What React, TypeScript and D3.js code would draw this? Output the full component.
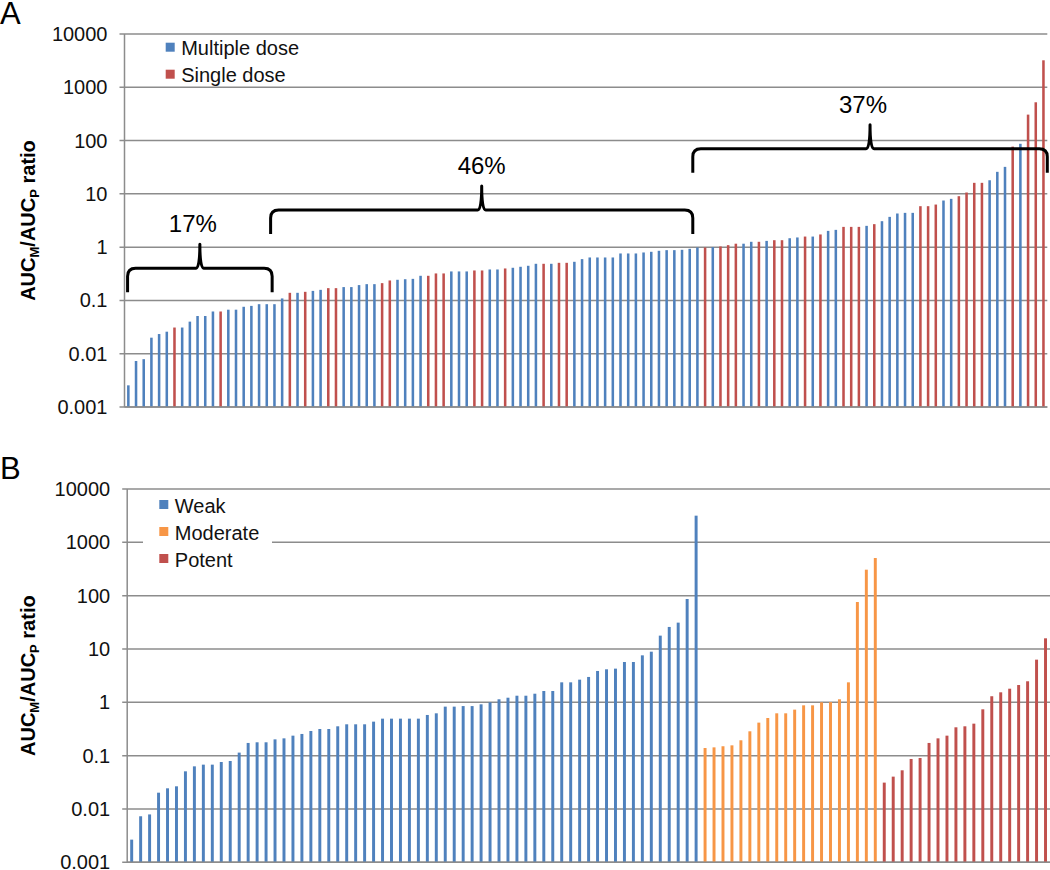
import React from 'react'
import * as d3 from 'd3'

const FONT = "'Liberation Sans', Arial, Helvetica, sans-serif"

// y axis decades (log scale)
const TICKS = [10000, 1000, 100, 10, 1, 0.1, 0.01, 0.001]
const TICK_LABELS = ['10000', '1000', '100', '10', '1', '0.1', '0.01', '0.001']

// colours (Excel 2007 palette)
const BLUE = '#4F81BD'
const RED = '#C0504D'
const ORANGE = '#F79646'
const GRID = '#8c8c8c'

// Panel A : AUCm/AUCp ratio, sorted, coloured by dosing regimen
const ratioA = [
    0.00255, 0.0073, 0.0079, 0.020, 0.0234, 0.0259, 0.031, 0.031, 0.040, 0.051,
    0.051, 0.062, 0.062, 0.067, 0.067, 0.076, 0.079, 0.085, 0.085, 0.085,
    0.109, 0.139, 0.139, 0.145, 0.151, 0.158, 0.170, 0.170, 0.178, 0.178,
    0.194, 0.202, 0.202, 0.211, 0.237, 0.244, 0.25, 0.254, 0.29, 0.29,
    0.321, 0.321, 0.35, 0.35, 0.35, 0.365, 0.365, 0.381, 0.381, 0.398,
    0.41, 0.428, 0.447, 0.487, 0.487, 0.487, 0.508, 0.508, 0.531, 0.596,
    0.64, 0.64, 0.64, 0.64, 0.761, 0.761, 0.761, 0.794, 0.818, 0.854,
    0.878, 0.878, 0.891, 0.93, 0.985, 0.985, 1.0, 1.03, 1.09, 1.16,
    1.16, 1.26, 1.26, 1.31, 1.35, 1.35, 1.47, 1.52, 1.58, 1.58,
    1.73, 2.02, 2.11, 2.4, 2.4, 2.4, 2.51, 2.7, 3.07, 3.7,
    4.28, 4.4, 4.4, 5.87, 5.87, 6.3, 7.5, 8.06, 9.04, 10.6,
    16.1, 16.1, 18.0, 25.9, 32.1, 77, 87, 307, 523, 3210,
]
// M = multiple dose, S = single dose (one letter per bar)
const doseA = [
    'MMMMMMSMMM', 'MMSMMMMMMM', 'MSMSMMSSMM', 'MMMSSMMMMS', 'SSMMMSSMMS',
    'MMMMSMSSMM', 'MMMMMMMMMM', 'MMMMMSMSSS', 'MMSMSSMMSM', 'SMMSSSMSMM',
    'MMMSSSMMSS', 'SSMMMSMSSS',
].join('').split('')

// Panel B : same ratio, grouped by inhibitor potency
const weak = [
    0.00266, 0.0073, 0.0079, 0.0202, 0.0244, 0.0266, 0.0508, 0.063, 0.0678, 0.0678,
    0.076, 0.0794, 0.114, 0.173, 0.178, 0.178, 0.202, 0.211, 0.237, 0.255,
    0.29, 0.316, 0.316, 0.355, 0.387, 0.387, 0.387, 0.434, 0.494, 0.494,
    0.494, 0.494, 0.494, 0.579, 0.622, 0.83, 0.83, 0.85, 0.85, 0.917,
    1.0, 1.14, 1.22, 1.33, 1.33, 1.45, 1.63, 1.63, 2.37, 2.37,
    2.66, 2.99, 3.87, 4.16, 4.28, 5.7, 5.7, 7.6, 8.9, 17.8,
    25.9, 31.2, 86.6, 3162,
]
const moderate = [
    0.139, 0.143, 0.15, 0.156, 0.194, 0.286, 0.416, 0.508, 0.622, 0.622,
    0.729, 0.878, 0.878, 1.0, 1.01, 1.14, 2.37, 76, 307, 508,
]
const potent = [
    0.0312, 0.0404, 0.0531, 0.0866, 0.0904, 0.173, 0.211, 0.237, 0.34, 0.355,
    0.398, 0.739, 1.3, 1.54, 1.8, 2.11, 2.48, 6.31, 15.85,
]

const legendA = ['Multiple dose', 'Single dose']
const legendB = ['Weak', 'Moderate', 'Potent']

// brackets over panel A: bar positions (fractional index), level value, label
const bracketsA = [
    { from: -0.1, to: 18.7, level: 0.4, label: '17%', dx: -7 },
    { from: 18.5, to: 73.4, level: 5, label: '46%', dx: 0 },
    { from: 73.4, to: 119.5, level: 70, label: '37%', dx: -7 },
]

type Bracket = { from: number, to: number, level: number, label: string, dx: number }

type PanelProps = {
    letter: string
    values: number[]
    colors: string[]
    x0: number, x1: number, y0: number, y1: number
    legend: string[]
    legendColors: string[]
    legendX: number
    legendY: number
    legendBox?: { x: number, y: number, w: number, h: number }
    brackets?: Bracket[]
}

const bracePath = (xa: number, xb: number, yh: number) => {
    const arm = 24, peak = 24, r = 8, s = 4
    const xm = (xa + xb) / 2
    return `M${xa},${yh + arm} L${xa},${yh + r} Q${xa},${yh} ${xa + r},${yh}` +
        ` L${xm - s},${yh} Q${xm},${yh} ${xm},${yh - peak} Q${xm},${yh} ${xm + s},${yh}` +
        ` L${xb - r},${yh} Q${xb},${yh} ${xb},${yh + r} L${xb},${yh + arm}`
}

const Panel = (p: PanelProps) => {
    const y = d3.scaleLog().domain([0.001, 10000]).range([p.y1, p.y0])
    const x = d3.scaleBand<number>()
        .domain(d3.range(p.values.length))
        .range([p.x0, p.x1])
        .paddingInner(0.67)
        .paddingOuter(0.335)
    const bx = (i: number) => p.x0 + x.step() * (i + 0.5)
    const midY = (p.y0 + p.y1) / 2

    return (
        <g fontFamily={FONT}>
            <text x={0} y={p.y0 - 10} fontSize={31}>{p.letter}</text>

            {/* grid + ticks */}
            {TICKS.map((t, i) => (
                <g key={t}>
                    <line x1={p.x0 - 5} x2={p.x1} y1={y(t)} y2={y(t)} stroke={GRID} strokeWidth={1.5} />
                    <text x={p.x0 - 17} y={y(t)} dy="0.35em" textAnchor="end" fontSize={20} fill="#111">{TICK_LABELS[i]}</text>
                </g>
            ))}
            <line x1={p.x0} x2={p.x0} y1={p.y0} y2={p.y1} stroke={GRID} strokeWidth={1.5} />

            <text transform={`translate(35,${midY}) rotate(-90)`} textAnchor="middle" fontSize={20} fontWeight="bold">
                AUC<tspan fontSize={13} dy={4}>M</tspan><tspan dy={-4}>/AUC</tspan><tspan fontSize={13} dy={4}>P</tspan><tspan dy={-4}> ratio</tspan>
            </text>

            {p.legendBox && (
                <rect x={p.legendBox.x} y={p.legendBox.y} width={p.legendBox.w} height={p.legendBox.h} fill="#fff" />
            )}

            {/* bars */}
            {p.values.map((v, i) => (
                <rect key={i} x={x(i)} width={x.bandwidth()} y={y(v)} height={p.y1 - y(v)} fill={p.colors[i]} />
            ))}
            <line x1={p.x0} x2={p.x1} y1={p.y1} y2={p.y1} stroke={GRID} strokeWidth={1.5} />

            {/* legend */}
            {p.legend.map((name, i) => (
                <g key={name}>
                    <rect x={p.legendX} y={p.legendY + i * 27 - 4.5} width={9} height={9} fill={p.legendColors[i]} />
                    <text x={p.legendX + 15.5} y={p.legendY + i * 27 + 1} dy="0.35em" fontSize={20} fill="#111">{name}</text>
                </g>
            ))}

            {/* brackets */}
            {(p.brackets ?? []).map(b => {
                const xa = bx(b.from), xb = bx(b.to), yh = y(b.level)
                return (
                    <g key={b.label}>
                        <path d={bracePath(xa, xb, yh)} fill="none" stroke="#000" strokeWidth={3} strokeLinejoin="round" />
                        <text x={(xa + xb) / 2 + b.dx} y={yh - 36} textAnchor="middle" fontSize={24}>{b.label}</text>
                    </g>
                )
            })}
        </g>
    )
}

const App = () => {
    const colorsA = doseA.map(d => (d === 'S' ? RED : BLUE))
    const valuesB = [...weak, ...moderate, ...potent]
    const colorsB = [
        ...weak.map(() => BLUE),
        ...moderate.map(() => ORANGE),
        ...potent.map(() => RED),
    ]

    return (
        <div style={{ position: 'absolute', left: 0, top: 0 }}>
            <svg width={1050} height={870} style={{ display: 'block', background: '#fff' }}>
                <Panel
                    letter="A"
                    values={ratioA}
                    colors={colorsA}
                    x0={124.5} x1={1047.3} y0={34} y1={407}
                    legend={legendA}
                    legendColors={[BLUE, RED]}
                    legendX={165.7} legendY={47.2}
                    brackets={bracketsA}
                />
                <Panel
                    letter="B"
                    values={valuesB}
                    colors={colorsB}
                    x0={127.2} x1={1050} y0={489} y1={862.3}
                    legend={legendB}
                    legendColors={[BLUE, ORANGE, RED]}
                    legendX={159.3} legendY={504.5}
                    legendBox={{ x: 143, y: 492, w: 129, h: 80 }}
                />
            </svg>
        </div>
    )
}

export default App
